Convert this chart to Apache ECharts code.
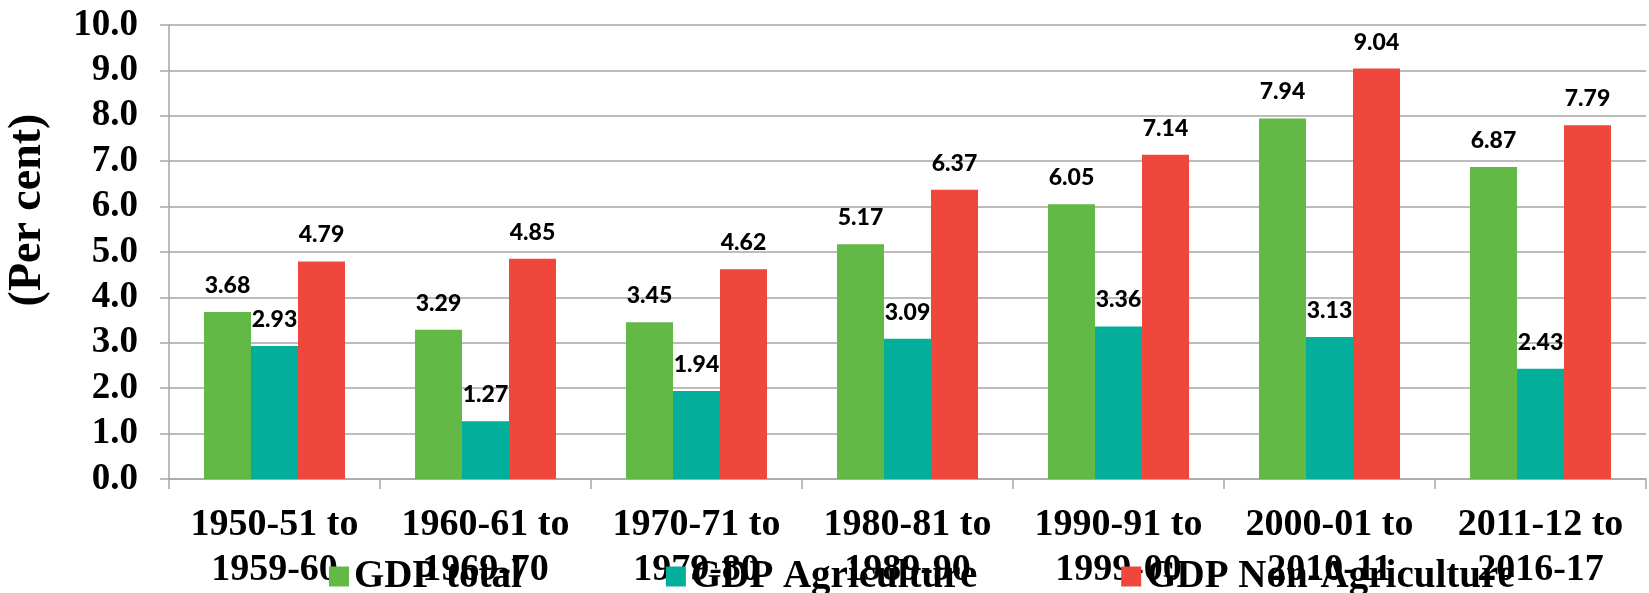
<!DOCTYPE html>
<html>
<head>
<meta charset="utf-8">
<script src="https://cdn.jsdelivr.net/npm/echarts@6/dist/echarts.min.js"></script>
<style>
  html, body { margin: 0; padding: 0; background: #fff; }
  #chart { width: 1649px; height: 593px; }
</style>
</head>
<body>
<div id="chart"></div>
<script>
// periods (x axis categories)
const periods = [
  '1950-51 to\n1959-60',
  '1960-61 to\n1969-70',
  '1970-71 to\n1979-80',
  '1980-81 to\n1989-90',
  '1990-91 to\n1999-00',
  '2000-01 to\n2010-11',
  '2011-12 to\n2016-17'
]

// average annual growth (per cent)
const gdpTotal = [3.68, 3.29, 3.45, 5.17, 6.05, 7.94, 6.87]
const gdpAgri = [2.93, 1.27, 1.94, 3.09, 3.36, 3.13, 2.43]
const gdpNonAgri = [4.79, 4.85, 4.62, 6.37, 7.14, 9.04, 7.79]

const seriesNames = ['GDP total', 'GDP Agriculture', 'GDP Non-Agriculture']
const colors = ['#63b946', '#03ae9a', '#ef473c']

const serif = '"Liberation Serif", "Times New Roman", serif'

const chart = echarts.init(document.getElementById('chart'))

function barSeries(name, data, color) {
  return {
    name,
    type: 'bar',
    data,
    barWidth: 47,
    barGap: '0%',
    itemStyle: { color },
    label: {
      show: true,
      position: 'top',
      distance: 15,
      formatter: p => p.value.toFixed(2),
      fontFamily: 'Lato, "Liberation Sans", sans-serif',
      fontWeight: 900,
      fontSize: 23,
      color: '#000'
    }
  }
}

chart.setOption({
  animation: false,
  color: colors,
  grid: { left: 169, right: 3, top: 25, bottom: 112 },
  legend: {
    left: 324,
    top: 552,
    itemWidth: 20,
    itemHeight: 20,
    itemGap: 144,
    icon: 'rect',
    textStyle: { fontFamily: serif, fontWeight: 'bold', fontSize: 39, color: '#000' },
    data: seriesNames
  },
  graphic: [{
    type: 'text',
    x: 28,
    y: 210,
    rotation: Math.PI / 2,
    style: {
      text: '(Per cent)',
      fontFamily: serif,
      fontWeight: 'bold',
      fontSize: 46,
      fill: '#000',
      align: 'center',
      verticalAlign: 'middle'
    }
  }],
  xAxis: {
    type: 'category',
    data: periods,
    axisLine: { lineStyle: { color: '#a6a6a6', width: 1.5 } },
    axisTick: { show: true, length: 10, lineStyle: { color: '#a6a6a6', width: 1.5 } },
    axisLabel: {
      interval: 0,
      margin: 24,
      fontFamily: serif,
      fontWeight: 'bold',
      fontSize: 38,
      lineHeight: 45,
      color: '#000'
    }
  },
  yAxis: {
    type: 'value',
    min: 0,
    max: 10,
    interval: 1,
    axisLine: { show: true, lineStyle: { color: '#a6a6a6', width: 1.5 } },
    axisTick: { show: true, length: 9, lineStyle: { color: '#a6a6a6', width: 1.5 } },
    splitLine: { lineStyle: { color: '#a6a6a6', width: 1.5 } },
    axisLabel: {
      margin: 31,
      formatter: v => v.toFixed(1),
      fontFamily: serif,
      fontWeight: 'bold',
      fontSize: 37,
      color: '#000'
    }
  },
  series: [
    barSeries(seriesNames[0], gdpTotal, colors[0]),
    barSeries(seriesNames[1], gdpAgri, colors[1]),
    barSeries(seriesNames[2], gdpNonAgri, colors[2])
  ]
})
</script>
</body>
</html>
